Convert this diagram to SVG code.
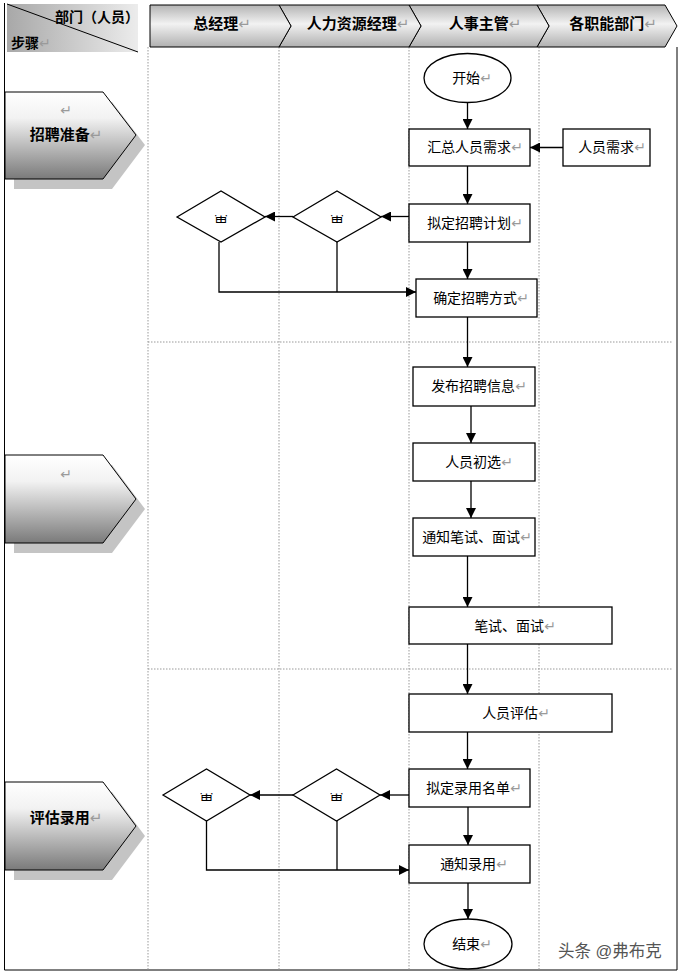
<svg xmlns="http://www.w3.org/2000/svg" width="682" height="974" viewBox="0 0 682 974">
<defs>
<style>
.t{font-family:"Liberation Sans","Noto Sans CJK SC","DejaVu Sans",sans-serif;font-size:14px;fill:#000;}
.b{font-weight:bold;}
.pm{fill:#9a9a9a;font-weight:normal;}
.box{fill:#fff;stroke:#000;stroke-width:1.3;}
.ln{fill:none;stroke:#000;stroke-width:1.3;}
.dot{fill:none;stroke:#999;stroke-width:1;stroke-dasharray:1.5 1.5;}
.hd{fill:url(#hg);stroke:#000;stroke-width:1;}
.st{fill:url(#sg);stroke:#000;stroke-width:1;}
.sh{fill:#c4c4c4;}
</style>
<linearGradient id="hg" x1="0" y1="0" x2="0" y2="1">
<stop offset="0" stop-color="#b4b4b4"/>
<stop offset="0.45" stop-color="#f2f2f2"/>
<stop offset="1" stop-color="#b0b0b0"/>
</linearGradient>
<linearGradient id="cg" x1="0" y1="0" x2="1" y2="0">
<stop offset="0" stop-color="#a8a8a8"/>
<stop offset="1" stop-color="#ececec"/>
</linearGradient>
<linearGradient id="sg" x1="0" y1="0" x2="0" y2="1">
<stop offset="0" stop-color="#ffffff"/>
<stop offset="0.3" stop-color="#f2f2f2"/>
<stop offset="1" stop-color="#7a7a7a"/>
</linearGradient>
<marker id="ar" viewBox="0 0 10 10" refX="10" refY="5" markerWidth="10" markerHeight="10" markerUnits="userSpaceOnUse" orient="auto">
<path d="M0,0 L10,5 L0,10 z" fill="#000"/>
</marker>
<clipPath id="c1"><rect x="200" y="215" width="40" height="8"/></clipPath>
<clipPath id="c2"><rect x="317" y="215" width="40" height="8"/></clipPath>
<clipPath id="c3"><rect x="186" y="793" width="40" height="8"/></clipPath>
<clipPath id="c4"><rect x="316" y="793" width="40" height="8"/></clipPath>
</defs>

<g id="frame">
<line x1="4.5" y1="3" x2="4.5" y2="970" stroke="#000" stroke-width="1"/>
<line x1="677" y1="47" x2="677" y2="970" stroke="#000" stroke-width="1"/>
<line x1="4.5" y1="970" x2="677" y2="970" stroke="#000" stroke-width="1"/>
<line class="dot" x1="148" y1="47" x2="148" y2="970"/>
<line class="dot" x1="279" y1="47" x2="279" y2="970"/>
<line class="dot" x1="409" y1="47" x2="409" y2="970"/>
<line class="dot" x1="539" y1="47" x2="539" y2="970"/>
<line class="dot" x1="148" y1="342" x2="672" y2="342"/>
<line class="dot" x1="148" y1="669" x2="672" y2="669"/>
</g>

<g id="corner">
<rect x="7" y="4" width="131" height="48" fill="url(#cg)"/>
<line x1="7" y1="4" x2="138" y2="52" stroke="#000" stroke-width="1"/>
<text class="t b" x="55" y="22">部门（人员）</text>
<text class="t b" x="11" y="48">步骤<tspan class="pm">↵</tspan></text>
</g>

<g id="lane-headers">
<polygon class="hd" points="537,5 665,5 677,26 665,47 537,47 549,26"/>
<polygon class="hd" points="409,5 537,5 549,26 537,47 409,47 421,26"/>
<polygon class="hd" points="279,5 409,5 421,26 409,47 279,47 291,26"/>
<polygon class="hd" points="150,5 279,5 291,26 279,47 150,47"/>
<text class="t b" x="222" y="29" text-anchor="middle" style="font-size:15px">总经理<tspan class="pm">↵</tspan></text>
<text class="t b" x="358" y="29" text-anchor="middle" style="font-size:15px">人力资源经理<tspan class="pm">↵</tspan></text>
<text class="t b" x="485" y="29" text-anchor="middle" style="font-size:15px">人事主管<tspan class="pm">↵</tspan></text>
<text class="t b" x="613" y="29" text-anchor="middle" style="font-size:15px">各职能部门<tspan class="pm">↵</tspan></text>
</g>

<g id="stage1">
<polygon class="sh" points="14,102 112,102 145,145 112,189 14,189"/>
<polygon class="st" points="5,92 103,92 136,135 103,179 5,179"/>
<text class="t pm" x="66" y="115" text-anchor="middle">↵</text>
<text class="t b" x="66" y="140" text-anchor="middle" style="font-size:15px">招聘准备<tspan class="pm">↵</tspan></text>
</g>
<g id="stage2">
<polygon class="sh" points="14,465 112,465 145,509 112,553 14,553"/>
<polygon class="st" points="5,455 103,455 136,499 103,543 5,543"/>
<text class="t pm" x="66" y="479" text-anchor="middle">↵</text>
</g>
<g id="stage3">
<polygon class="sh" points="14,792 112,792 145,836 112,880 14,880"/>
<polygon class="st" points="5,782 103,782 136,826 103,870 5,870"/>
<text class="t b" x="66" y="823" text-anchor="middle" style="font-size:15px">评估录用<tspan class="pm">↵</tspan></text>
</g>

<g id="connectors">
<line class="ln" x1="467.5" y1="102" x2="467.5" y2="129" marker-end="url(#ar)"/>
<line class="ln" x1="563" y1="147.5" x2="530" y2="147.5" marker-end="url(#ar)"/>
<line class="ln" x1="467.5" y1="166" x2="467.5" y2="204" marker-end="url(#ar)"/>
<line class="ln" x1="467.5" y1="242" x2="467.5" y2="279" marker-end="url(#ar)"/>
<line class="ln" x1="409" y1="216.5" x2="381" y2="216.5" marker-end="url(#ar)"/>
<line class="ln" x1="293" y1="216.5" x2="265" y2="216.5" marker-end="url(#ar)"/>
<polyline class="ln" points="219,242 219,292 416,292" marker-end="url(#ar)"/>
<line class="ln" x1="337" y1="242" x2="337" y2="292"/>
<line class="ln" x1="467.5" y1="317" x2="467.5" y2="367" marker-end="url(#ar)"/>
<line class="ln" x1="471" y1="406" x2="471" y2="443" marker-end="url(#ar)"/>
<line class="ln" x1="471" y1="481" x2="471" y2="518" marker-end="url(#ar)"/>
<line class="ln" x1="467.5" y1="556" x2="467.5" y2="607" marker-end="url(#ar)"/>
<line class="ln" x1="467.5" y1="644" x2="467.5" y2="694" marker-end="url(#ar)"/>
<line class="ln" x1="467.5" y1="732" x2="467.5" y2="769" marker-end="url(#ar)"/>
<line class="ln" x1="409" y1="795" x2="380" y2="795" marker-end="url(#ar)"/>
<line class="ln" x1="293" y1="795" x2="250" y2="795" marker-end="url(#ar)"/>
<polyline class="ln" points="206.5,821 206.5,870 409,870" marker-end="url(#ar)"/>
<line class="ln" x1="337" y1="821" x2="337" y2="870"/>
<line class="ln" x1="468" y1="807" x2="468" y2="845" marker-end="url(#ar)"/>
<line class="ln" x1="468" y1="883" x2="468" y2="919" marker-end="url(#ar)"/>
</g>

<g id="start">
<ellipse class="box" cx="467.5" cy="78" rx="43.5" ry="24.5"/>
<text class="t" x="472" y="83" text-anchor="middle">开始<tspan class="pm">↵</tspan></text>
</g>
<g id="collect">
<rect class="box" x="409" y="129" width="121" height="37"/>
<text class="t" x="475" y="152" text-anchor="middle">汇总人员需求<tspan class="pm">↵</tspan></text>
</g>
<g id="demand">
<rect class="box" x="563" y="129" width="87" height="37"/>
<text class="t" x="612" y="152" text-anchor="middle">人员需求<tspan class="pm">↵</tspan></text>
</g>
<g id="plan">
<rect class="box" x="409" y="204" width="121" height="38"/>
<text class="t" x="475" y="228" text-anchor="middle">拟定招聘计划<tspan class="pm">↵</tspan></text>
</g>
<g id="review1a">
<polygon class="box" points="177,217 221,191 265,217 221,242"/>
<text class="t" x="221" y="224" text-anchor="middle" clip-path="url(#c1)">审</text>
</g>
<g id="review1b">
<polygon class="box" points="293,217 337,191 381,217 337,242"/>
<text class="t" x="337" y="224" text-anchor="middle" clip-path="url(#c2)">审</text>
</g>
<g id="method">
<rect class="box" x="416" y="279" width="121" height="38"/>
<text class="t" x="481" y="303" text-anchor="middle">确定招聘方式<tspan class="pm">↵</tspan></text>
</g>
<g id="publish">
<rect class="box" x="413" y="367" width="122" height="39"/>
<text class="t" x="479" y="391" text-anchor="middle">发布招聘信息<tspan class="pm">↵</tspan></text>
</g>
<g id="screen">
<rect class="box" x="413" y="443" width="122" height="38"/>
<text class="t" x="479" y="467" text-anchor="middle">人员初选<tspan class="pm">↵</tspan></text>
</g>
<g id="notify-test">
<rect class="box" x="413" y="518" width="122" height="38"/>
<text class="t" x="477" y="542" text-anchor="middle">通知笔试、面试<tspan class="pm">↵</tspan></text>
</g>
<g id="test">
<rect class="box" x="409" y="607" width="203" height="37"/>
<text class="t" x="515" y="631" text-anchor="middle">笔试、面试<tspan class="pm">↵</tspan></text>
</g>
<g id="evaluate">
<rect class="box" x="409" y="694" width="203" height="38"/>
<text class="t" x="516" y="718" text-anchor="middle">人员评估<tspan class="pm">↵</tspan></text>
</g>
<g id="list">
<rect class="box" x="409" y="769" width="121" height="38"/>
<text class="t" x="474" y="793" text-anchor="middle">拟定录用名单<tspan class="pm">↵</tspan></text>
</g>
<g id="review2a">
<polygon class="box" points="163,795 206.5,769 250,795 206.5,821"/>
<text class="t" x="206.5" y="802" text-anchor="middle" clip-path="url(#c3)">审</text>
</g>
<g id="review2b">
<polygon class="box" points="293,795 336.5,769 380,795 336.5,821"/>
<text class="t" x="336.5" y="802" text-anchor="middle" clip-path="url(#c4)">审</text>
</g>
<g id="notify-hire">
<rect class="box" x="409" y="845" width="121" height="38"/>
<text class="t" x="474" y="869" text-anchor="middle">通知录用<tspan class="pm">↵</tspan></text>
</g>
<g id="end">
<ellipse class="box" cx="468" cy="944" rx="44" ry="25"/>
<text class="t" x="472" y="949" text-anchor="middle">结束<tspan class="pm">↵</tspan></text>
</g>

<g id="watermark">
<text class="t" x="558" y="957" style="font-size:16.5px;fill:#555;">头条 @弗布克</text>
</g>
</svg>
